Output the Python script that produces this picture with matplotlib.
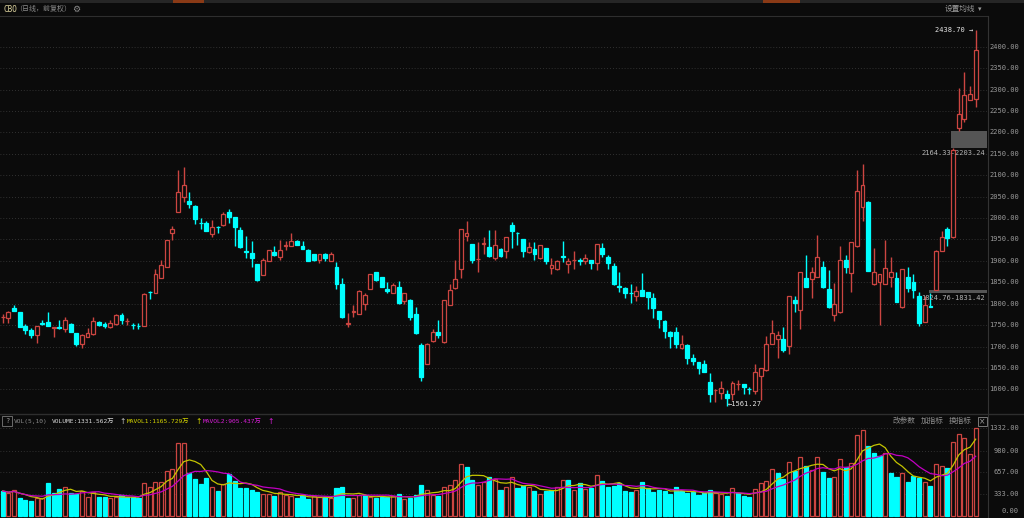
import matplotlib
matplotlib.use('Agg')
import matplotlib.pyplot as plt
import matplotlib.transforms as mtransforms
from matplotlib.patches import Rectangle
from matplotlib.lines import Line2D
import numpy as np
import pandas as pd

# 日K数据 (开, 高, 低, 收), 成交量单位: 万
opens = [1768, 1767, 1791, 1781, 1748, 1738, 1727, 1754, 1757, 1744,
         1745, 1740, 1753, 1731, 1706, 1722, 1730, 1757, 1752, 1746,
         1752, 1773, 1759, 1751, 1748, 1749, 1828, 1824, 1861, 1886,
         1966, 2013, 2049, 2039, 2029, 1989, 1988, 1963, 1980, 1983,
         2015, 2002, 1973, 1923, 1918, 1892, 1867, 1900, 1921, 1908,
         1935, 1935, 1947, 1934, 1925, 1916, 1903, 1915, 1900, 1886,
         1846, 1753, 1781, 1777, 1800, 1835, 1873, 1862, 1835, 1826,
         1840, 1806, 1808, 1775, 1703, 1660, 1712, 1734, 1710, 1797,
         1836, 1880, 1958, 1939, 1904, 1940, 1932, 1906, 1927, 1922,
         1984, 1966, 1952, 1920, 1927, 1906, 1930, 1883, 1881, 1911,
         1892, 1902, 1901, 1900, 1902, 1895, 1931, 1910, 1888, 1841,
         1837, 1825, 1817, 1832, 1827, 1813, 1783, 1760, 1735, 1733,
         1696, 1704, 1674, 1663, 1660, 1617, 1598, 1592, 1590, 1589,
         1611.5, 1612, 1602, 1596, 1631, 1645, 1706, 1717, 1717, 1701,
         1809, 1785, 1861, 1858, 1863, 1886, 1835, 1774, 1781, 1901,
         1871, 1934, 2026, 2038, 1845, 1850, 1845, 1863, 1861, 1792,
         1862, 1850, 1819, 1758, 1794, 1831.42, 1924, 1974, 1955, 2211,
         2231, 2276, 2277]
highs = [1776, 1784, 1797, 1781, 1753, 1744, 1747, 1763, 1781, 1745,
         1761, 1769, 1754, 1731, 1729, 1744, 1769, 1760, 1758, 1761,
         1777, 1779, 1767, 1756, 1756, 1826, 1829, 1881, 1902, 1949,
         1982, 2113, 2120, 2060, 2030, 2000, 1994, 1995, 1981, 2013,
         2021, 2002, 1978, 1959, 1947, 1893, 1906, 1926, 1935, 1949,
         1947, 1964, 1948, 1947, 1927, 1917, 1916, 1919, 1921, 1898,
         1859, 1779, 1797, 1831, 1826, 1870, 1874, 1863, 1851, 1848,
         1853, 1825, 1810, 1793, 1709, 1708, 1740, 1763, 1809, 1845,
         1902, 1975, 1994, 1940, 1943, 1956, 1972, 1972, 1929, 1956,
         1990, 1968, 1952, 1945, 1943, 1938, 1931, 1906, 1903, 1947,
         1906, 1922, 1906, 1916, 1903, 1940, 1941, 1913, 1896, 1873,
         1838, 1845, 1841, 1871, 1828, 1826, 1784, 1761, 1736, 1745,
         1727, 1705, 1683, 1664, 1668, 1638, 1602, 1619, 1598, 1619,
         1623, 1612, 1606, 1659, 1651, 1724, 1762, 1736, 1746, 1819,
         1818, 1875, 1914, 1885, 1961, 1899, 1879, 1848, 1935, 1914,
         1944, 2113, 2127, 2039, 1931, 1870, 1948, 1909, 1875, 1881,
         1885, 1870, 1828, 1817, 1824.76, 1925, 1970, 1978, 2164.33, 2303,
         2342, 2309, 2438.70]
lows = [1755, 1756, 1783, 1745, 1730, 1720, 1709, 1751, 1749, 1723,
        1742, 1735, 1733, 1701, 1696, 1722, 1727, 1748, 1744, 1744,
        1750, 1752, 1750, 1742, 1740, 1749, 1810, 1824, 1860, 1885,
        1949, 2013, 2037, 2023, 1986, 1975, 1970, 1955, 1966, 1982,
        1988, 1935, 1930, 1906, 1886, 1853, 1866, 1899, 1912, 1902,
        1925, 1934, 1936, 1928, 1899, 1899, 1896, 1899, 1900, 1835,
        1767, 1745, 1770, 1776, 1785, 1834, 1854, 1838, 1824, 1824,
        1799, 1800, 1763, 1730, 1619, 1659, 1711, 1720, 1709, 1796,
        1835, 1860, 1947, 1896, 1873, 1917, 1908, 1902, 1910, 1906,
        1929, 1938, 1910, 1919, 1902, 1904, 1892, 1870, 1878, 1898,
        1871, 1882, 1890, 1892, 1881, 1878, 1910, 1880, 1844, 1827,
        1814, 1801, 1806, 1818, 1788, 1767, 1744, 1720, 1697, 1696,
        1695, 1660, 1656, 1635, 1640, 1571, 1571, 1578, 1561.27, 1574,
        1598, 1590, 1589, 1589, 1574, 1644, 1705, 1674, 1688, 1682,
        1781, 1741, 1839, 1813, 1862, 1836, 1791, 1760, 1778, 1871,
        1828, 1933, 1992, 1877, 1844, 1750, 1845, 1840, 1804, 1790,
        1828, 1813, 1748, 1757, 1792, 1831.42, 1923, 1935, 1954, 2203.24,
        2225, 2275, 2260]
closes = [1770, 1781, 1783, 1746, 1738, 1728, 1747, 1752, 1749, 1745,
          1743, 1761, 1735, 1707, 1728, 1731, 1759, 1750, 1749, 1756,
          1774, 1762, 1760, 1750, 1747, 1822, 1827, 1869, 1890, 1949,
          1975, 2060, 2077, 2033, 1997, 1988, 1970, 1979, 1978, 2009,
          2003, 1978, 1933, 1921, 1906, 1855, 1903, 1925, 1914, 1925,
          1937, 1947, 1937, 1928, 1900, 1902, 1916, 1906, 1916, 1845,
          1768, 1755, 1782, 1830, 1820, 1869, 1856, 1840, 1830, 1843,
          1802, 1824, 1770, 1731, 1629, 1707, 1735, 1727, 1808, 1832,
          1858, 1974, 1965, 1903, 1905, 1941, 1912, 1937, 1912, 1956,
          1970, 1964, 1924, 1932, 1915, 1937, 1899, 1891, 1900, 1909,
          1900, 1903, 1900, 1906, 1894, 1939, 1915, 1896, 1845, 1840,
          1826, 1824, 1830, 1819, 1816, 1791, 1765, 1736, 1725, 1707,
          1705, 1674, 1666, 1650, 1641, 1589, 1599, 1604, 1580, 1615,
          1612, 1606, 1601, 1641, 1650, 1707, 1732, 1727, 1693, 1818,
          1801, 1874, 1840, 1874, 1909, 1838, 1792, 1799, 1901, 1885,
          1943, 2064, 2078, 1877, 1875, 1870, 1884, 1875, 1805, 1880,
          1836, 1832, 1754, 1796, 1793, 1924, 1956, 1953, 2160, 2242,
          2287, 2289, 2392]
volumes = [374, 338, 389, 261, 236, 221, 272, 261, 491, 338,
           399, 430, 348, 323, 374, 276, 363, 287, 276, 261,
           276, 312, 276, 276, 261, 500, 430, 506, 506, 679,
           709, 1112, 1102, 643, 557, 481, 567, 430, 378, 481,
           633, 526, 414, 425, 389, 363, 323, 323, 297, 357,
           317, 297, 261, 312, 246, 297, 276, 276, 261, 420,
           430, 272, 261, 312, 312, 287, 261, 287, 276, 302,
           323, 251, 261, 312, 465, 389, 312, 302, 430, 465,
           541, 786, 735, 541, 465, 516, 582, 551, 389, 430,
           582, 414, 449, 430, 378, 327, 378, 389, 430, 541,
           541, 389, 491, 399, 414, 618, 526, 430, 449, 491,
           374, 363, 389, 506, 414, 363, 389, 374, 327, 430,
           374, 338, 353, 312, 348, 389, 348, 323, 297, 414,
           338, 297, 276, 399, 491, 526, 709, 654, 551, 811,
           679, 888, 760, 694, 898, 658, 567, 592, 863, 735,
           806, 1228, 1305, 1066, 949, 908, 949, 654, 592, 654,
           506, 603, 567, 516, 455, 785, 750, 720, 1117, 1250,
           1190, 940, 1331.56]
prev_close = 1772  # 窗口前一日收盘

price_ticks = [1600, 1650, 1700, 1750, 1800, 1850, 1900, 1950, 2000,
               2050, 2100, 2150, 2200, 2250, 2300, 2350, 2400]
vol_ticks = [0, 333, 657, 980, 1332]

# 缺口
gaps = [(164, 1824.76, 1831.42), (168, 2164.33, 2203.24)]

BG = '#0b0b0b'
RED = '#cc4541'
CYAN = '#00ffff'
GRID = '#3e3e3e'
LABEL = '#9a9a9a'
MONO = 'DejaVu Sans Mono'
CJK = 'Noto Sans CJK SC'
W, H = 1024, 518


def fx(px):
    return px / W


def fy(py):
    return 1 - py / H


fig = plt.figure(figsize=(W / 100, H / 100), dpi=100, facecolor=BG)
ax_p = fig.add_axes([0, fy(413), fx(987), (413 - 16) / H])
ax_v = fig.add_axes([0, 0, fx(987), (518 - 414) / H])
for ax in (ax_p, ax_v):
    ax.set_facecolor(BG)
    for s in ax.spines.values():
        s.set_visible(False)
    ax.set_xticks([])
    ax.set_yticks([])
    ax.set_xlim(-0.48, 174.0)

ax_p.set_ylim(1544.8, 2471.7)
ax_v.set_ylim(-38, 1550)

n = len(closes)
x = np.arange(n)
o = np.array(opens, float)
h = np.array(highs, float)
l = np.array(lows, float)
c = np.array(closes, float)
v = np.array(volumes, float)
pc = np.concatenate([[prev_close], c[:-1]])

up = c > o
flat = c == o
up = up | (flat & (c >= pc))

# 网格
for t in price_ticks:
    ax_p.axhline(t, color=GRID, lw=0.6, ls=(0, (1, 2.5)), zorder=0)
for t in vol_ticks[1:]:
    ax_v.axhline(t, color=GRID, lw=0.6, ls=(0, (1, 2.5)), zorder=0)

# 缺口区域
for i, lo, hi in gaps:
    ax_p.add_patch(Rectangle((i - 0.3, lo), 174.0 - i + 0.3, hi - lo,
                             facecolor='#555555', edgecolor='none', zorder=0.5))
    ax_p.annotate(f'{lo:.2f}-{hi:.2f}', xy=(174.0, lo), xytext=(-1.5, -1.5),
                  textcoords='offset points', ha='right', va='top',
                  color='#b4b4b4', fontsize=5, family=MONO, zorder=5)

# K线
col = np.where(up, RED, CYAN)
ax_p.vlines(x, l, h, colors=col, lw=1, zorder=1)
body_lo = np.minimum(o, c)
body_h = np.maximum(np.abs(c - o), 0.6)
ax_p.bar(x, body_h, bottom=body_lo, width=0.68,
         color=np.where(up, BG, CYAN), edgecolor=col, linewidth=0.9, zorder=2)

# 最高 / 最低标注
hi_i = int(np.argmax(h))
lo_i = int(np.argmin(l))
ax_p.annotate(f'{h[hi_i]:.2f} →', xy=(hi_i, h[hi_i]), xytext=(-1.5, 0),
              textcoords='offset points', ha='right', va='center',
              color='#e6e6e6', fontsize=5, family=[MONO, 'DejaVu Sans'])
ax_p.annotate(f'←{l[lo_i]:.2f}', xy=(lo_i, l[lo_i]), xytext=(1, 1.5),
              textcoords='offset points', ha='left', va='center',
              color='#e6e6e6', fontsize=5, family=[MONO, 'DejaVu Sans'])

# 成交量
vup = c >= pc
vcol = np.where(vup, RED, CYAN)
ax_v.bar(x, v, width=0.72, color=np.where(vup, BG, CYAN),
         edgecolor=vcol, linewidth=0.9, zorder=2)
ma5 = pd.Series(v).rolling(5, min_periods=1).mean()
ma10 = pd.Series(v).rolling(10, min_periods=1).mean()
ax_v.plot(x, ma5, color='#c4c400', lw=0.9, zorder=3)
ax_v.plot(x, ma10, color='#c200c2', lw=0.9, zorder=3)

# 右侧刻度
tr_p = mtransforms.blended_transform_factory(fig.transFigure, ax_p.transData)
for t in price_ticks:
    fig.text(fx(1019), t, f'{t:.2f}', transform=tr_p, ha='right', va='center',
             color=LABEL, fontsize=5, family=MONO)
tr_v = mtransforms.blended_transform_factory(fig.transFigure, ax_v.transData)
for t in vol_ticks:
    tt = mtransforms.offset_copy(tr_v, fig=fig, y=5 if t == 0 else 0, units='dots')
    fig.text(fx(1019), t, f'{t:.2f}', transform=tt, ha='right', va='center',
             color=LABEL, fontsize=5, family=MONO)

# 框线
fig.add_artist(Rectangle((0, fy(3)), 1, 3 / H, transform=fig.transFigure,
                         facecolor='#262626', edgecolor='none'))
for a, b in [(173, 204), (763, 800)]:
    fig.add_artist(Rectangle((fx(a), fy(3)), fx(b - a), 3 / H, transform=fig.transFigure,
                             facecolor='#8a3a16', edgecolor='none'))
fig.add_artist(Line2D([0, fx(987)], [fy(15.5)] * 2, color='#2e2e2e', lw=0.8))
fig.add_artist(Line2D([0, 1], [fy(413.5)] * 2, color='#2e2e2e', lw=1))
fig.add_artist(Line2D([fx(987.5)] * 2, [0, fy(15.5)], color='#333333', lw=0.8))

# 顶部标题
fig.text(fx(3), fy(9), 'CBO', color='#e0d6a0', fontsize=5.5, family=MONO, va='center')
fig.text(fx(15), fy(9), '（日线，前复权）', color='#8c8c8c', fontsize=5, family=CJK, va='center')
fig.text(fx(72), fy(9), '⚙', color='#8c8c8c', fontsize=6.5, family='DejaVu Sans', va='center')
fig.text(fx(945), fy(9), '设置均线', color='#9a9a9a', fontsize=5.5, family=CJK, va='center')
fig.text(fx(978), fy(9), '▾', color='#9a9a9a', fontsize=5, family='DejaVu Sans', va='center')

# 成交量标题
fig.add_artist(Rectangle((fx(2), fy(426)), fx(10), 10 / H, transform=fig.transFigure,
                         facecolor='none', edgecolor='#6a6a6a', lw=0.7))
fig.text(fx(7), fy(421), '?', color='#9a9a9a', fontsize=5, family=MONO, ha='center', va='center')
fam = [MONO, CJK]
fig.text(fx(14), fy(421), 'VOL(5,10)', color='#8a8a8a', fontsize=4.5, family=fam, va='center')
fig.text(fx(52), fy(421), 'VOLUME:1331.562万', color='#d8d8d8', fontsize=4.5, family=fam, va='center')
fig.text(fx(119), fy(421), '↑', color='#c0c0c0', fontsize=5.5, family='DejaVu Sans', va='center')
fig.text(fx(127), fy(421), 'MAVOL1:1165.729万', color='#d4d400', fontsize=4.5, family=fam, va='center')
fig.text(fx(195), fy(421), '↑', color='#d4d400', fontsize=5.5, family='DejaVu Sans', va='center')
fig.text(fx(203), fy(421), 'MAVOL2:905.437万', color='#d81ed8', fontsize=4.5, family=fam, va='center')
fig.text(fx(267), fy(421), '↑', color='#d81ed8', fontsize=5.5, family='DejaVu Sans', va='center')

for px, s in [(893, '改参数'), (921, '加指标'), (949, '换指标')]:
    fig.text(fx(px), fy(421), s, color='#8c8c8c', fontsize=5.5, family=CJK, va='center')
fig.add_artist(Rectangle((fx(978), fy(426)), fx(9), 9 / H, transform=fig.transFigure,
                         facecolor='none', edgecolor='#7a7a7a', lw=0.7))
fig.text(fx(982.5), fy(421.5), '×', color='#9a9a9a', fontsize=5.5, family='DejaVu Sans',
         ha='center', va='center')

fig.savefig('out.png', dpi=100, facecolor=BG)
